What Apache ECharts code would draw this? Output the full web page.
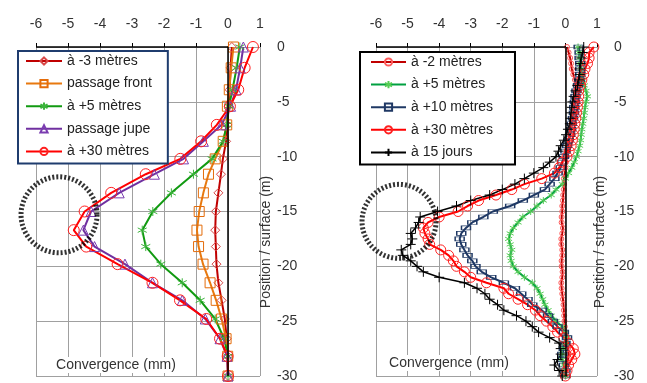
<!DOCTYPE html>
<html>
<head>
<meta charset="utf-8">
<script src="https://cdn.jsdelivr.net/npm/echarts@6/dist/echarts.min.js"></script>
<style>
  html, body { margin: 0; padding: 0; background: #fff; }
  #chart { width: 647px; height: 383px; }
</style>
</head>
<body>
<div id="chart"></div>
<script>
// left panel: depth (m) and convergence (mm) per survey
const L_DEPTH = [0, -1.9, -3.9, -5.4, -7.1, -8.6, -10.2, -11.6, -13.3, -15.0, -16.7, -18.2, -19.8, -21.5, -23.1, -24.8, -26.6, -28.2, -30];
const L_M3 = [0.12, 0.08, 0.05, 0.02, -0.02, -0.06, -0.16, -0.22, -0.3, -0.38, -0.4, -0.38, -0.36, -0.3, -0.2, -0.1, -0.04, -0.01, 0];
const L_FRONT = [0.17, 0.1, 0.04, -0.02, -0.04, -0.15, -0.4, -0.61, -0.77, -0.9, -0.97, -0.92, -0.78, -0.56, -0.37, -0.2, -0.06, -0.01, 0];
const L_P5 = [0.37, 0.27, 0.14, 0.03, -0.04, -0.15, -0.5, -1.08, -1.77, -2.35, -2.68, -2.57, -2.1, -1.43, -0.87, -0.4, -0.12, 0, 0];
const L_JUPE = [0.48, 0.38, 0.25, 0.08, -0.2, -0.77, -1.39, -2.3, -3.4, -4.28, -4.52, -4.17, -3.22, -2.36, -1.43, -0.71, -0.25, -0.03, 0];
const L_P30 = [0.78, 0.52, 0.32, 0.06, -0.35, -0.84, -1.49, -2.57, -3.65, -4.48, -4.82, -4.43, -3.45, -2.36, -1.5, -0.68, -0.25, -0.01, 0];
const L_NAMES = ['à -3 mètres', 'passage front', 'à +5 mètres', 'passage jupe', 'à +30 mètres'];

// right panel
const R_DEPTH = [0, -0.5, -1, -1.5, -2, -2.5, -3, -3.5, -4, -4.5, -5, -5.5, -6, -6.5, -7, -7.5, -8, -8.5, -9, -9.5,
  -10, -10.5, -11, -11.5, -12, -12.5, -13, -13.5, -14, -14.5, -15, -15.5, -16, -16.5, -17, -17.5, -18, -18.5, -19, -19.5,
  -20, -20.5, -21, -21.5, -22, -22.5, -23, -23.5, -24, -24.5, -25, -25.5, -26, -26.5, -27, -27.5, -28, -28.5, -29, -29.5, -30];
const R_M2 = [0.05, 0.1, 0.15, 0.18, 0.2, 0.25, 0.3, 0.32, 0.35, 0.32, 0.3, 0.28, 0.25, 0.22, 0.2, 0.18, 0.15, 0.12, 0.1, 0.08,
  0.05, 0.02, 0, -0.02, -0.05, -0.04, -0.05, -0.07, -0.08, -0.1, -0.1, -0.12, -0.12, -0.08, -0.1, -0.13, -0.13, -0.1, -0.1, -0.12,
  -0.12, -0.09, -0.1, -0.13, -0.12, -0.1, -0.08, -0.06, -0.05, -0.04, -0.03, -0.02, 0, 0.03, 0.05, 0.08, 0.1, 0.08, 0.05, 0.02, 0];
const R_P5 = [0.4, 0.42, 0.45, 0.48, 0.5, 0.52, 0.55, 0.6, 0.65, 0.7, 0.65, 0.62, 0.6, 0.58, 0.55, 0.52, 0.5, 0.48, 0.45, 0.4,
  0.35, 0.28, 0.2, 0.1, 0, -0.1, -0.3, -0.45, -0.7, -0.9, -1.1, -1.35, -1.5, -1.65, -1.75, -1.8, -1.75, -1.7, -1.75, -1.72,
  -1.65, -1.5, -1.3, -1.05, -0.9, -0.8, -0.72, -0.65, -0.55, -0.45, -0.3, -0.1, 0, 0.05, 0, -0.1, -0.1, -0.1, -0.05, -0.05, 0];
const R_P10 = [0.42, 0.45, 0.45, 0.47, 0.47, 0.47, 0.45, 0.4, 0.35, 0.32, 0.3, 0.28, 0.27, 0.24, 0.2, 0.18, 0.15, 0.1, 0.05, 0,
  -0.05, -0.1, -0.15, -0.25, -0.35, -0.5, -0.65, -1.0, -1.35, -1.75, -2.3, -2.6, -2.95, -3.15, -3.3, -3.35, -3.3, -3.2, -3.1, -2.95,
  -2.85, -2.65, -2.35, -1.95, -1.6, -1.4, -1.2, -1.05, -0.75, -0.55, -0.4, -0.25, -0.05, 0.05, 0, -0.05, -0.1, -0.1, -0.05, 0, 0];
const R_P30 = [0.9, 0.75, 0.75, 0.7, 0.62, 0.58, 0.52, 0.48, 0.42, 0.42, 0.4, 0.38, 0.35, 0.33, 0.3, 0.28, 0.25, 0.22, 0.18, 0.12,
  0.05, -0.1, -0.2, -0.35, -0.75, -1.3, -1.7, -2.2, -2.75, -3.1, -3.4, -4.0, -4.35, -4.5, -4.45, -4.35, -4.3, -3.95, -3.7, -3.55,
  -3.45, -3.2, -3.0, -2.5, -1.95, -1.8, -1.5, -1.2, -0.95, -0.8, -0.6, -0.4, -0.25, -0.05, 0.1, 0.25, 0.3, 0.2, 0.1, 0.05, 0];
const R_J15 = [0.58, 0.55, 0.5, 0.48, 0.45, 0.45, 0.42, 0.38, 0.32, 0.26, 0.22, 0.2, 0.18, 0.16, 0.14, 0.08, 0.02, -0.05, -0.15, -0.22,
  -0.3, -0.5, -0.7, -1.0, -1.3, -1.6, -2.0, -2.4, -3.0, -3.45, -4.05, -4.6, -4.65, -4.75, -4.9, -4.85, -4.9, -5.2, -5.15, -4.9,
  -4.7, -4.5, -4.0, -3.2, -2.8, -2.55, -2.4, -2.15, -1.95, -1.55, -1.25, -1.05, -0.85, -0.5, -0.2, -0.15, -0.15, -0.25, -0.35, -0.2, -0.1];
const R_NAMES = ['à -2 mètres', 'à +5 mètres ', 'à +10 mètres', 'à +30 mètres ', 'à 15 jours'];

// dotted highlight circles [x, y]
const CIRCLE_L = [-5.28, -15.3];
const CIRCLE_R = [-5.27, -15.9];

const FONT = 'Liberation Sans, Arial, sans-serif';
const ASTERISK = 'path://M5,0L5,10M0.7,2.5L9.3,7.5M0.7,7.5L9.3,2.5';
const PLUS = 'path://M5,0L5,10M0,5L10,5';

const pairs = (xs, ys) => xs.map((x, i) => [x, ys[i]]);

function curve(name, grid, xs, ys, color, symbol, size, markColor, width) {
  return {
    name, type: 'line', xAxisIndex: grid, yAxisIndex: grid,
    data: pairs(xs, ys),
    symbol, symbolSize: size, showSymbol: true, clip: false,
    lineStyle: { color, width },
    itemStyle: { color: 'transparent', borderColor: markColor, borderWidth: 1 },
    emphasis: { disabled: true },
  };
}

function axes(i) {
  return {
    x: {
      type: 'value', gridIndex: i, min: -6, max: 1, interval: 1, position: 'top',
      axisLine: { show: false },
      axisTick: { show: true, length: 4, lineStyle: { color: '#000' } },
      axisLabel: { margin: 16, color: '#333', fontSize: 14, fontFamily: FONT },
      splitLine: { show: true, lineStyle: { color: '#a0a0a0', width: 1 } },
    },
    y: {
      type: 'value', gridIndex: i, min: -30, max: 0, interval: 5, position: 'right',
      axisLine: { show: false, onZero: false },
      axisTick: { show: false },
      axisLabel: { margin: 17, color: '#333', fontSize: 14, fontFamily: FONT },
      splitLine: { show: true, lineStyle: { color: '#a0a0a0', width: 1 } },
    },
  };
}

const frameLines = {
  silent: true, symbol: ['none', 'none'], animation: false,
  label: { show: false },
  lineStyle: { color: '#000', width: 1.5, type: 'solid' },
  data: [{ xAxis: 0 }, [{ coord: [-6, 0] }, { coord: [0, 0] }]],
};

function ring(grid, pt, size) {
  return {
    type: 'scatter', xAxisIndex: grid, yAxisIndex: grid, data: [pt],
    symbol: 'circle', symbolSize: size, clip: false, z: 10, silent: true,
    itemStyle: { color: 'transparent', borderColor: '#000', borderWidth: 5, borderType: [2, 2] },
  };
}

const a0 = axes(0), a1 = axes(1);

const leftSeries = [
  curve(L_NAMES[0], 0, L_M3, L_DEPTH, '#c00000', 'diamond', 9, '#d84848', 2),
  curve(L_NAMES[1], 0, L_FRONT, L_DEPTH, '#e8790f', 'rect', 10, '#e46c0a', 2),
  curve(L_NAMES[2], 0, L_P5, L_DEPTH, '#119a11', ASTERISK, 9, '#3cb43c', 2),
  curve(L_NAMES[3], 0, L_JUPE, L_DEPTH, '#7030a0', 'triangle', 10, '#7a3cb0', 2),
  curve(L_NAMES[4], 0, L_P30, L_DEPTH, '#ff0000', 'circle', 11, '#ff2020', 2),
];
leftSeries[0].markLine = frameLines;

const rightSeries = [
  curve(R_NAMES[0], 1, R_M2, R_DEPTH, '#c00000', 'circle', 5, '#ff5a5a', 2),
  curve(R_NAMES[1], 1, R_P5, R_DEPTH, '#00a040', ASTERISK, 7, '#55cc55', 2),
  curve(R_NAMES[2], 1, R_P10, R_DEPTH, '#1f3864', 'rect', [9, 4], '#1f3864', 2),
  curve(R_NAMES[3], 1, R_P30, R_DEPTH, '#ff0000', 'circle', 10, '#ff2020', 2),
  curve(R_NAMES[4], 1, R_J15, R_DEPTH, '#000000', PLUS, 10, '#000000', 1.5),
];
rightSeries[0].markLine = frameLines;

const legendBase = {
  orient: 'vertical', itemWidth: 36, itemHeight: 9, itemGap: 8.6, selectedMode: false,
  backgroundColor: '#fff', borderWidth: 2,
  textStyle: { fontSize: 14, color: '#222', fontFamily: FONT },
};

const textStyle = (t) => ({ text: t, font: '14px ' + FONT, fill: '#333' });

const chart = echarts.init(document.getElementById('chart'));
chart.setOption({
  animation: false,
  backgroundColor: '#fff',
  grid: [
    { left: 36, top: 47, width: 224, height: 330 },
    { left: 376, top: 47, width: 221, height: 330 },
  ],
  xAxis: [a0.x, a1.x],
  yAxis: [a0.y, a1.y],
  legend: [
    Object.assign({}, legendBase, { data: L_NAMES, left: 18, top: 51, padding: [3, 16, 5, 7], borderColor: '#1f3c6e' }),
    Object.assign({}, legendBase, { data: R_NAMES, left: 360, top: 52, itemWidth: 35, padding: [3, 18, 5, 10], borderColor: '#000' }),
  ],
  graphic: [
    { type: 'text', x: 266, y: 242, rotation: Math.PI / 2, z: 100,
      style: Object.assign(textStyle('Position / surface (m)'), { align: 'center', verticalAlign: 'middle' }) },
    { type: 'text', x: 600, y: 242, rotation: Math.PI / 2, z: 100,
      style: Object.assign(textStyle('Position / surface (m)'), { align: 'center', verticalAlign: 'middle' }) },
    { type: 'text', x: 116, y: 365, z: 100,
      style: Object.assign(textStyle('Convergence (mm)'), { align: 'center', verticalAlign: 'middle', backgroundColor: '#fff', padding: [1, 2] }) },
    { type: 'text', x: 449, y: 363, z: 100,
      style: Object.assign(textStyle('Convergence (mm)'), { align: 'center', verticalAlign: 'middle', backgroundColor: '#fff', padding: [1, 2] }) },
  ],
  series: [
    ...leftSeries,
    ...rightSeries,
    ring(0, CIRCLE_L, 76),
    ring(1, CIRCLE_R, 74),
  ],
});
</script>
</body>
</html>
